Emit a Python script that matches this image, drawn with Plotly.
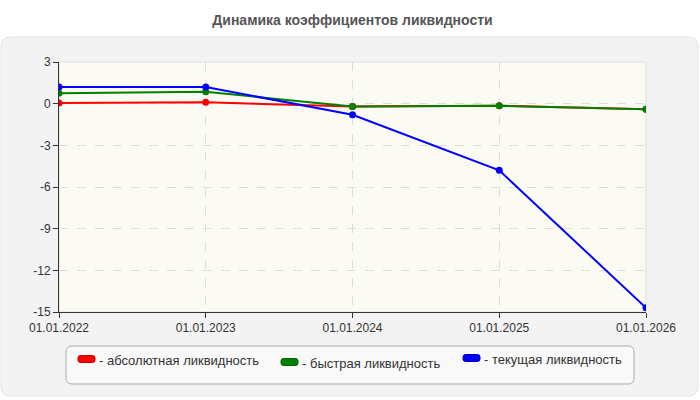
import plotly.graph_objects as go

dates = ["01.01.2022", "01.01.2023", "01.01.2024", "01.01.2025", "01.01.2026"]
absolute = [0.05, 0.1, -0.2, -0.15, -0.4]
quick = [0.75, 0.85, -0.2, -0.15, -0.4]
current = [1.2, 1.2, -0.8, -4.8, -14.7]
y_ticks = [3, 0, -3, -6, -9, -12, -15]
y_tick_text = ["3", "0", "-3", "-6", "-9", "-12", "-15"]
series = [
    ("- абсолютная ликвидность", absolute, "#ff0000", "#cc0000"),
    ("- быстрая ликвидность", quick, "#008000", "#006400"),
    ("- текущая ликвидность", current, "#0000ff", "#0000b0"),
]

W, H = 700, 400
L, R, T, B = 59, 54, 62, 88
PW, PH = W - L - R, H - T - B


def px(x):
    return (x - L) / PW


def py(y):
    return (H - B - y) / PH


def rrect(x0, y0, x1, y1, r):
    rx, ry = r / PW, r / PH
    a, b, c, d = px(x0), py(y1), px(x1), py(y0)
    return (f"M {a+rx},{d} L {c-rx},{d} Q {c},{d} {c},{d-ry} "
            f"L {c},{b+ry} Q {c},{b} {c-rx},{b} L {a+rx},{b} "
            f"Q {a},{b} {a},{b+ry} L {a},{d-ry} Q {a},{d} {a+rx},{d} Z")


fig = go.Figure()
for name, vals, col, _ in series:
    fig.add_trace(go.Scatter(
        x=dates, y=vals, name=name, mode="lines+markers",
        line=dict(color=col, width=2),
        marker=dict(color=col, size=7),
        showlegend=False, hoverinfo="x+y",
    ))

shapes = [
    dict(type="path", xref="paper", yref="paper", path=rrect(1, 37, 698, 396, 10),
         fillcolor="#f3f3f3", line=dict(color="#e2e2e2", width=1), layer="below"),
    dict(type="rect", xref="paper", yref="paper", x0=0, y0=0, x1=1, y1=1,
         fillcolor="#fbfbf3", line=dict(color="#dddddd", width=1), layer="below"),
    dict(type="path", xref="paper", yref="paper", path=rrect(66, 346, 634, 384, 6),
         fillcolor="#f9f9f9", line=dict(color="#aaaaaa", width=1), layer="below"),
]
annotations = []
legend_pos = [(78, 359, 97), (281, 362, 300), (463, 358, 482)]
for (name, vals, col, dark), (sx, sy, tx) in zip(series, legend_pos):
    shapes.append(dict(type="path", xref="paper", yref="paper",
                       path=rrect(sx, sy - 3.5, sx + 17, sy + 3.5, 2.5),
                       fillcolor=col, line=dict(color=dark, width=1), layer="above"))
    annotations.append(dict(text=name, xref="paper", yref="paper", x=px(tx), y=py(sy + 1),
                            xanchor="left", yanchor="middle", showarrow=False,
                            font=dict(size=13, color="#333333")))

fig.update_layout(
    width=W, height=H,
    margin=dict(l=L, r=R, t=T, b=B, pad=0),
    paper_bgcolor="white",
    plot_bgcolor="rgba(0,0,0,0)",
    font=dict(family="Liberation Sans, Arial, sans-serif", size=12, color="#333333"),
    title=dict(text="<b>Динамика коэффициентов ликвидности</b>", x=0.5, xref="paper",
               xanchor="center", y=1 - 20 / H, yanchor="middle",
               font=dict(size=14, color="#555555")),
    shapes=shapes,
    annotations=annotations,
    showlegend=False,
)
fig.update_xaxes(
    type="category", range=[0, len(dates) - 1],
    showline=True, linecolor="#333333", linewidth=1,
    ticks="outside", ticklen=5, tickcolor="#333333",
    showgrid=True, gridcolor="#dddddd", griddash="dash", gridwidth=1,
    zeroline=False, tickfont=dict(size=12, color="#333333"),
)
fig.update_yaxes(
    range=[-15, 3], tickvals=y_ticks, ticktext=y_tick_text,
    showline=True, linecolor="#333333", linewidth=1,
    ticks="outside", ticklen=5, tickcolor="#333333",
    showgrid=True, gridcolor="#dddddd", griddash="dash", gridwidth=1,
    zeroline=False, tickfont=dict(size=12, color="#333333"),
)
fig.write_html("out.html")
